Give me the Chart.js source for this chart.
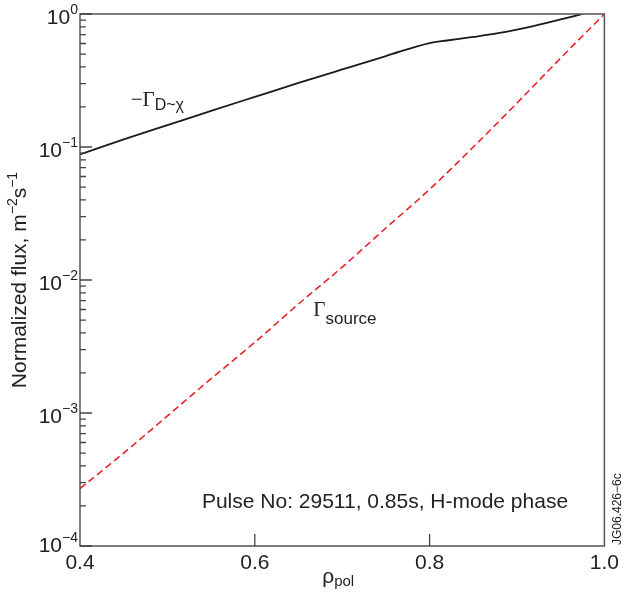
<!DOCTYPE html>
<html>
<head>
<meta charset="utf-8">
<script src="https://cdn.jsdelivr.net/npm/chart.js@4/dist/chart.umd.min.js"></script>
<style>
body { margin: 0; background: #fff; }
</style>
</head>
<body>
<canvas id="flux-chart" width="624" height="594"></canvas>
<script>
// Profiles (normalized flux vs rho_pol)
const rhoDiff = [0.4, 0.45, 0.5, 0.55, 0.6, 0.65, 0.7, 0.75, 0.8, 0.82, 0.85, 0.88, 0.92, 0.95, 0.975];
const fluxDiff = [0.088, 0.114, 0.146, 0.187, 0.238, 0.303, 0.383, 0.483, 0.605, 0.632, 0.672, 0.72, 0.815, 0.91, 1.0];

const rhoSource = [0.4, 0.45, 0.5, 0.55, 0.6, 0.65, 0.7, 0.75, 0.8, 0.85, 0.9, 0.95, 1.0];
const fluxSource = [2.7e-4, 5.0e-4, 9.5e-4, 1.81e-3, 3.4e-3, 6.6e-3, 0.0125, 0.0246, 0.048, 0.10, 0.214, 0.467, 1.0];

const xTicks = [0.4, 0.6, 0.8, 1.0];
const yDecades = [-4, -3, -2, -1, 0];

const SANS = '"Liberation Sans", Arial, Helvetica, sans-serif';
const SERIF = '"Liberation Serif", "Times New Roman", serif';
const INK = '#222';

// draws text pieces in a row: [text, size, dy, family]
function drawRun(ctx, parts, x, y) {
    let cx = x;
    parts.forEach(p => {
        ctx.font = p[1] + 'px ' + (p[3] || SANS);
        ctx.fillText(p[0], cx, y + p[2]);
        cx += ctx.measureText(p[0]).width;
    });
}
function runWidth(ctx, parts) {
    let w = 0;
    parts.forEach(p => {
        ctx.font = p[1] + 'px ' + (p[3] || SANS);
        w += ctx.measureText(p[0]).width;
    });
    return w;
}

const decorations = {
    id: 'decorations',
    afterDraw(chart) {
        const ctx = chart.ctx;
        const a = chart.chartArea;
        const xs = chart.scales.x;
        const ys = chart.scales.y;
        ctx.save();

        // frame
        ctx.strokeStyle = '#555';
        ctx.lineWidth = 1.5;
        ctx.strokeRect(a.left, a.top, a.right - a.left, a.bottom - a.top);

        // y ticks, inward, with minor ones
        ctx.strokeStyle = '#444';
        ctx.lineWidth = 1.3;
        ctx.beginPath();
        yDecades.forEach(d => {
            const v = Math.pow(10, d);
            const py = ys.getPixelForValue(v);
            ctx.moveTo(a.left, py);
            ctx.lineTo(a.left + 12, py);
            if (d < 0) {
                for (let m = 2; m <= 9; m++) {
                    const pm = ys.getPixelForValue(m * v);
                    ctx.moveTo(a.left, pm);
                    ctx.lineTo(a.left + 6, pm);
                }
            }
        });
        // x ticks, inward
        xTicks.forEach(t => {
            if (t <= xs.min || t >= xs.max) return;
            const px = xs.getPixelForValue(t);
            ctx.moveTo(px, a.bottom);
            ctx.lineTo(px, a.bottom - 12);
        });
        ctx.stroke();

        // y tick labels as 10^n
        ctx.fillStyle = INK;
        ctx.textBaseline = 'alphabetic';
        ctx.textAlign = 'left';
        yDecades.forEach(d => {
            const py = ys.getPixelForValue(Math.pow(10, d));
            const base = Math.min(py + 10, a.bottom + 6);
            const parts = [['10', 21, 0], [d === 0 ? '0' : '\u2212' + (-d), 14, -10]];
            const w = runWidth(ctx, parts);
            drawRun(ctx, parts, a.left - 2 - w, base);
        });

        // curve labels
        let lx = xs.getPixelForValue(0.458);
        let ly = ys.getPixelForValue(0.205);
        drawRun(ctx, [['\u2212\u0393', 21, 0, SERIF], ['D~\u03c7', 16, 4]], lx, ly);

        lx = xs.getPixelForValue(0.667);
        ly = ys.getPixelForValue(0.0054);
        drawRun(ctx, [['\u0393', 21, 0, SERIF], ['source', 17, 8]], lx, ly);

        // pulse info
        ctx.font = '21px ' + SANS;
        ctx.textAlign = 'center';
        ctx.fillText('Pulse No: 29511, 0.85s, H-mode phase', 385, 508);

        // x title
        ctx.textAlign = 'left';
        const xt = [['\u03c1', 21, 0], ['pol', 15, 3]];
        drawRun(ctx, xt, (a.left + a.right) / 2 - runWidth(ctx, xt) / 2 - 4, 583);

        // y title
        const yt = [['Normalized flux, m', 21, 0], ['\u22122', 14, -9], ['s', 21, 0], ['\u22121', 14, -9]];
        ctx.save();
        ctx.translate(26, (a.top + a.bottom) / 2);
        ctx.rotate(-Math.PI / 2);
        drawRun(ctx, yt, -runWidth(ctx, yt) / 2, 0);
        ctx.restore();

        // figure id
        ctx.save();
        ctx.translate(621, a.bottom - 1);
        ctx.rotate(-Math.PI / 2);
        ctx.font = '12px ' + SANS;
        ctx.textAlign = 'left';
        ctx.fillText('JG06.426\u22126c', 0, 0);
        ctx.restore();

        ctx.restore();
    }
};

const fluxChart = new Chart(document.getElementById('flux-chart'), {
    type: 'line',
    data: {
        datasets: [{
            label: '-Gamma D-chi',
            data: rhoDiff.map((r, i) => ({ x: r, y: fluxDiff[i] })),
            borderColor: '#1a1a1a',
            borderWidth: 1.8,
            pointRadius: 0,
            cubicInterpolationMode: 'monotone',
        }, {
            label: 'Gamma source',
            data: rhoSource.map((r, i) => ({ x: r, y: fluxSource[i] })),
            borderColor: '#e8242c',
            borderWidth: 1.6,
            borderDash: [7, 4],
            pointRadius: 0,
            cubicInterpolationMode: 'monotone',
        }]
    },
    options: {
        responsive: false,
        animation: false,
        layout: { padding: { top: 14, right: 15, left: 0, bottom: 0 } },
        plugins: {
            legend: { display: false },
            tooltip: { enabled: false },
        },
        scales: {
            x: {
                type: 'linear',
                min: 0.4,
                max: 1.0,
                afterBuildTicks: s => { s.ticks = xTicks.map(v => ({ value: v })); },
                afterFit: s => { s.height = 48; },
                grid: { display: false, drawTicks: false },
                border: { display: false },
                ticks: {
                    padding: 5,
                    color: INK,
                    font: { family: SANS, size: 21 },
                    maxRotation: 0,
                    autoSkip: false,
                    callback: v => v.toFixed(1),
                },
            },
            y: {
                type: 'logarithmic',
                min: 1e-4,
                max: 1,
                afterFit: s => { s.width = 80; },
                grid: { display: false, drawTicks: false },
                border: { display: false },
                ticks: { display: false },
            },
        },
    },
    plugins: [decorations],
});
</script>
</body>
</html>
